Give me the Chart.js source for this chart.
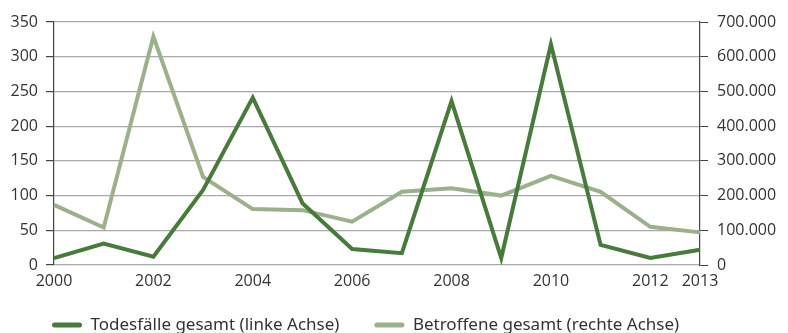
<!DOCTYPE html>
<html>
<head>
<meta charset="utf-8">
<script src="https://cdn.jsdelivr.net/npm/chart.js@4"></script>
<style>
    html, body { margin: 0; padding: 0; background: #fff; }
    #wrap { width: 788px; height: 333px; }
</style>
</head>
<body>
<div id="wrap"><canvas id="lineChart" width="788" height="333"></canvas></div>
<script>
// Jahre auf der x-Achse
const years = ["2000", "2001", "2002", "2003", "2004", "2005", "2006",
    "2007", "2008", "2009", "2010", "2011", "2012", "2013"];

// Todesfälle gesamt (linke Achse)
const deaths = [10, 31, 12, 108, 241, 89, 23, 17, 236, 10, 318, 29, 10, 22];

// Betroffene gesamt (rechte Achse)
const affected = [173000, 108000, 658000, 254000, 161000, 158000, 125000,
    211000, 221000, 200000, 257000, 211000, 110000, 94000];

// Achsenbeschriftungen
const leftTicks = [0, 50, 100, 150, 200, 250, 300, 350];
const rightTicks = [0, 100000, 200000, 300000, 400000, 500000, 600000, 700000];
const shownYears = ["2000", "2002", "2004", "2006", "2008", "2010", "2012", "2013"];

const darkGreen = "#477a3b";
const lightGreen = "#9cb08b";
const textColor = "#333333";
const axisFont = { family: "'Open Sans', sans-serif", size: 16 };
const legendPadding = 35;

function formatThousands(value) {
    return value === 0 ? "0" : value.toLocaleString("de-DE");
}

// Legende unter dem Diagramm nach rechts/unten rücken, ohne die Achsen zu verschieben
const legendOffset = {
    id: "legendOffset",
    afterLayout: function (chart) {
        chart.legend.left = 52 - legendPadding;
        chart.legend.top = 325 - legendPadding - 8.5;
    }
};

let ctx = document.getElementById("lineChart").getContext("2d");
let lineChart = new Chart(ctx, {
    type: "line",
    data: {
        labels: years,
        datasets: [
            {
                label: "Todesfälle gesamt (linke Achse)",
                data: deaths,
                yAxisID: "yLeft",
                borderColor: darkGreen,
                backgroundColor: darkGreen,
                borderWidth: 4,
                pointRadius: 0,
                tension: 0
            },
            {
                label: "Betroffene gesamt (rechte Achse)",
                data: affected,
                yAxisID: "yRight",
                borderColor: lightGreen,
                backgroundColor: lightGreen,
                borderWidth: 4,
                pointRadius: 0,
                tension: 0
            }
        ]
    },
    plugins: [legendOffset],
    options: {
        responsive: false,
        animation: false,
        layout: {
            padding: { top: 22, left: 0, right: 0, bottom: 0 }
        },
        plugins: {
            tooltip: { enabled: false },
            legend: {
                position: "bottom",
                align: "start",
                maxHeight: 34,
                labels: {
                    color: textColor,
                    boxWidth: 30,
                    boxHeight: 5,
                    useBorderRadius: true,
                    borderRadius: 2.5,
                    padding: legendPadding,
                    font: { family: "'Noto Sans', 'DejaVu Sans', sans-serif", size: 17 },
                    generateLabels: function (chart) {
                        return Chart.defaults.plugins.legend.labels.generateLabels(chart).map(function (item) {
                            item.lineWidth = 0;
                            return item;
                        });
                    }
                }
            }
        },
        scales: {
            x: {
                type: "category",
                offset: false,
                grid: { display: false },
                border: { display: false },
                ticks: {
                    color: textColor,
                    font: axisFont,
                    autoSkip: false,
                    maxRotation: 0,
                    padding: -1,
                    callback: function (value) {
                        let label = this.getLabelForValue(value);
                        return shownYears.includes(label) ? label : "";
                    }
                },
                afterFit: function (scale) {
                    scale.height = 34;
                }
            },
            yLeft: {
                position: "left",
                min: leftTicks[0],
                max: leftTicks[leftTicks.length - 1],
                afterBuildTicks: function (scale) {
                    scale.ticks = leftTicks.map(function (v) { return { value: v }; });
                },
                grid: {
                    color: "#a9a9a9",
                    lineWidth: 1.2,
                    tickLength: 8,
                    tickColor: "#444"
                },
                border: { display: true, color: "#444", width: 1.2 },
                ticks: { color: textColor, font: axisFont, padding: 8 },
                afterFit: function (scale) {
                    scale.width = 54;
                }
            },
            yRight: {
                position: "right",
                min: rightTicks[0],
                max: rightTicks[rightTicks.length - 1],
                afterBuildTicks: function (scale) {
                    scale.ticks = rightTicks.map(function (v) { return { value: v }; });
                },
                grid: {
                    drawOnChartArea: false,
                    tickLength: 8,
                    tickColor: "#444"
                },
                border: { display: true, color: "#444", width: 1.2 },
                ticks: {
                    color: textColor,
                    font: axisFont,
                    padding: 9,
                    callback: function (value) {
                        return formatThousands(value);
                    }
                },
                afterFit: function (scale) {
                    scale.width = 88;
                }
            }
        }
    }
});
</script>
</body>
</html>
